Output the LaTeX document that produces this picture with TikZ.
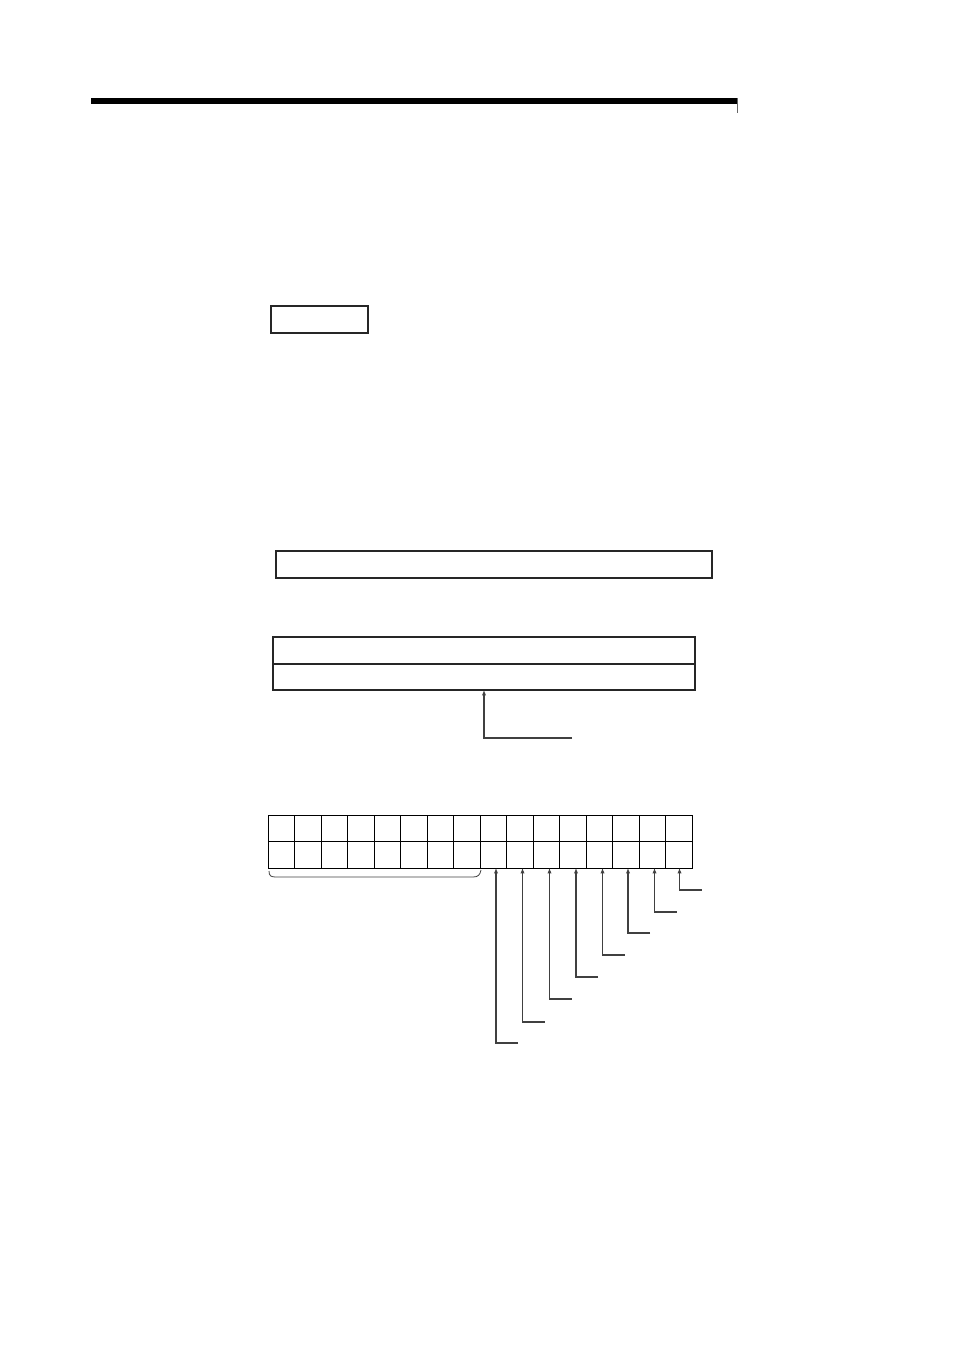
\documentclass[tikz,border=0pt]{standalone}
\usetikzlibrary{arrows.meta}
\begin{document}
\begin{tikzpicture}[x=0.75pt,y=-0.75pt,
  box/.style={draw=black!85,line width=0.8pt,inner sep=0pt,outer sep=0pt,anchor=north west},
  cell/.style={draw=black,line width=0.7pt,inner sep=0pt,outer sep=0pt,anchor=north west,minimum width=26.5*0.75pt,minimum height=26.5*0.75pt},
  lead/.style={draw=black!75,line width=0.8pt,-{Latex[length=4pt,width=3.2pt]}}]
\useasboundingbox (0,0) rectangle (954,1350);
% top rule
\fill[black] (91,98) rectangle (737,104);
\draw[black!60,line width=0.5pt] (737,98) -- (737,113);
% small framed label box
\node[box,line width=1.9pt,minimum width=97*0.75pt,minimum height=27*0.75pt] (lab) at (271,306) {};
% single box
\node[box,minimum width=436*0.75pt,minimum height=27*0.75pt] (b1) at (276,551) {};
% two-row box
\node[box,minimum width=422*0.75pt,minimum height=27*0.75pt] (b2a) at (273,637) {};
\node[box,minimum width=422*0.75pt,minimum height=26*0.75pt] (b2b) at (273,664) {};
\coordinate (p0) at (572,738);
\draw[lead] (p0) -- (484,738) -- (484,690);
% bit grid
\foreach \i in {1,...,16}{
  \node[cell] (t\i) at ({268.3+(\i-1)*26.5},815) {};
  \node[cell] (u\i) at ({268.3+(\i-1)*26.5},841.5) {};
}
% brace under the upper 8 bits
\draw[black!75,line width=0.6pt] (269,871) .. controls (269,876) and (271,877) .. (276,877) -- (473,877) .. controls (478,877) and (480,875) .. (481,870);
% leader arrows for the lower 8 bits
\foreach \i/\x/\y in {9/496/1043,10/522.5/1022,11/549.5/999,12/576/977,13/602.5/955,14/628/933,15/654.5/912,16/679.5/890}{
  \coordinate (e\i) at (\x+22,\y);
  \draw[lead] (e\i) -- (\x,\y) -- (\x,868);
}
\end{tikzpicture}
\end{document}
